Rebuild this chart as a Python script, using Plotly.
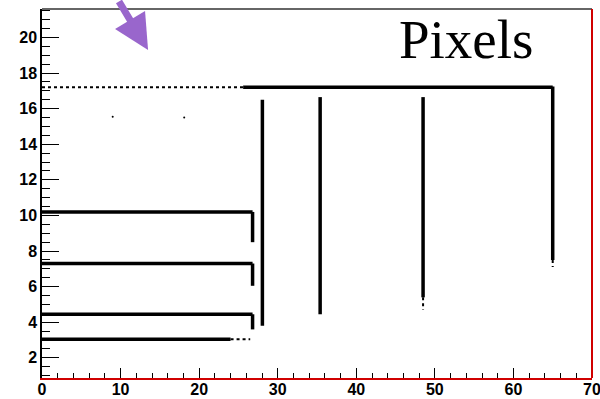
import plotly.graph_objects as go

# ---- data (segments: x0, x1, y0, y1) ----
solid_x0 = [25.6, 65.0, 48.5, 35.4, 28.05, 0.0, 26.8, 0.0, 26.8, 0.0, 26.8, 0.0]
solid_x1 = [65.0, 65.0, 48.5, 35.4, 28.05, 26.8, 26.8, 26.8, 26.8, 26.8, 26.8, 24.0]
solid_y0 = [17.2, 17.25, 16.65, 16.65, 16.5, 10.2, 10.2, 7.3, 7.3, 4.45, 4.45, 3.05]
solid_y1 = [17.2, 7.5, 5.4, 4.45, 3.8, 10.2, 8.5, 7.3, 6.05, 4.45, 3.6, 3.05]

sparse_x0 = [0.0, 65.0, 48.5, 24.0]
sparse_x1 = [25.6, 65.0, 48.5, 26.5]
sparse_y0 = [17.2, 7.5, 5.4, 3.05]
sparse_y1 = [17.2, 7.1, 4.7, 3.05]

stray_x = [9.0, 18.1]
stray_y = [15.55, 15.5]

x_range = [0, 70]
y_range = [0.87, 21.6]
label_text = "Pixels"

fig = go.Figure()

def seg_arrays(x0, x1, y0, y1):
    xs, ys = [], []
    for a, b, c, d in zip(x0, x1, y0, y1):
        xs += [a, b, None]
        ys += [c, d, None]
    return xs, ys

sx, sy = seg_arrays(solid_x0, solid_x1, solid_y0, solid_y1)
fig.add_trace(go.Scatter(x=sx, y=sy, mode="lines",
                         line=dict(color="black", width=3.5), hoverinfo="skip"))
px_, py_ = seg_arrays(sparse_x0, sparse_x1, sparse_y0, sparse_y1)
fig.add_trace(go.Scatter(x=px_, y=py_, mode="lines",
                         line=dict(color="black", width=2, dash="dot"), hoverinfo="skip"))
fig.add_trace(go.Scatter(x=stray_x, y=stray_y, mode="markers",
                         marker=dict(color="black", size=2), hoverinfo="skip"))

axis_font = dict(family="Liberation Sans, Arial", size=16, color="black", weight="bold")

fig.update_layout(
    width=600, height=399,
    margin=dict(l=42, r=8, t=9, b=21),
    paper_bgcolor="white", plot_bgcolor="white",
    showlegend=False,
    xaxis=dict(range=x_range, showgrid=False, zeroline=False, automargin=False,
               ticks="inside", ticklen=10, tickwidth=1, tickcolor="black",
               tick0=0, dtick=10, ticklabeloverflow="allow", ticklabelstandoff=-4,
               minor=dict(ticks="inside", ticklen=5, dtick=2, tickcolor="black", showgrid=False),
               tickfont=axis_font, showline=True, linecolor="#d00000", linewidth=2,
               mirror=False),
    yaxis=dict(range=y_range, showgrid=False, zeroline=False, automargin=False,
               ticks="inside", ticklen=17, tickwidth=1, tickcolor="black",
               tick0=0, dtick=2, ticklabeloverflow="allow",
               minor=dict(ticks="inside", ticklen=8, dtick=0.5, tickcolor="black", showgrid=False),
               tickfont=axis_font, showline=True, linecolor="black", linewidth=1.5,
               mirror=False),
)

# frame: top black, right red
fig.add_shape(type="line", xref="paper", yref="paper", x0=0, x1=1, y0=1, y1=1,
              line=dict(color="#333333", width=1.5))
fig.add_shape(type="line", xref="paper", yref="paper", x0=1, x1=1, y0=0, y1=1,
              line=dict(color="#d00000", width=2))

fig.add_annotation(text=label_text,
                   xref="paper", yref="paper", x=0.77, y=1.005, yanchor="top", xanchor="center",
                   showarrow=False,
                   font=dict(family="Liberation Serif, Times New Roman", size=55, color="black"))

# purple arrow
fig.add_annotation(x=13.5, y=19.3, xref="x", yref="y", text="",
                   showarrow=True, arrowhead=2, arrowsize=1.0, arrowwidth=7,
                   arrowcolor="#9966cc", ax=-30, ay=-64)

fig.write_html("out.html")
